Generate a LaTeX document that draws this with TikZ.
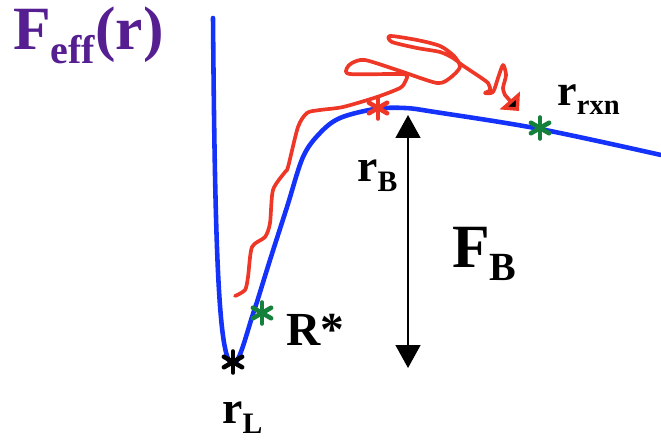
\documentclass[tikz,border=0pt]{standalone}
\usepackage{fontspec}
\setmainfont{Liberation Serif}
\usetikzlibrary{arrows.meta,positioning,calc}
\definecolor{curveblue}{RGB}{20,50,250}
\definecolor{pathred}{RGB}{238,55,38}
\definecolor{stargreen}{RGB}{20,128,60}
\definecolor{titlepurple}{RGB}{85,30,145}
\newcommand{\sublab}[2]{#1\raisebox{-0.22em}{\scalebox{0.65}{#2}}}

\begin{document}
\begin{tikzpicture}[x=0.02cm, y=-0.02cm,
  astx/.pic={\foreach \a in {30,90,...,330} \draw[line width=2.6pt, line cap=round] (0,0) -- (\a:6pt);},
  lab/.style={anchor=base west, inner sep=0pt},
  fbarrow/.style={line width=1.3pt, {Triangle[length=13pt,width=14pt]}-{Triangle[length=13pt,width=14pt]}}]
\useasboundingbox (0,0) rectangle (661,439);
% title
\node[lab, titlepurple, font=\bfseries\fontsize{35}{40}\selectfont] (title) at (13,50) {\sublab{F}{eff}(r)};
% free energy curve
\draw[curveblue, line width=2.6pt, line cap=round, line join=round]
  (213,18) .. controls (215,260) and (219,364) .. (233,364)
  .. controls (240,364) and (247,330) .. (257,302)
  -- plot[smooth, tension=0.55] coordinates {
  (257,302) (270,260) (287,207) (303,157) (320,133) (340,118) (375,109) (405,108)
  (435,112) (540,129) (661,155)};
% trajectory
\coordinate (trajend) at (519,111);
\draw[pathred, line width=2.1pt, line cap=round, line join=round,
  -{Triangle[length=8pt,width=15pt,fill=black]}] plot[smooth, tension=0.45] coordinates {
  (235,296) (245,290) (248,277) (252,247) (265,237) (270,223) (273,190) (285,172) (288,167)
  (298,127) (307,113) (320,110) (343,107) (377,97) (400,88) (405,82) (407,76) (400,74)
  (350,74) (347,68) (352,63) (365,60) (400,71) (437,83) (450,78) (460,67) (454,56) (440,46)
  (417,40) (390,36) (392,42) (417,48) (440,52) (453,58) (462,65) (477,75) (488,83) (490,90)
  (485,93) (493,92) (498,78) (503,65) (506,75) (503,88) (505,95)} -- (trajend);
% marked points
\coordinate (rl) at (233,362);
\coordinate (rstar) at (262,313);
\coordinate (rb) at (378,108);
\coordinate (rrxn) at (540,128);
\path (rl) pic[black] {astx};
\path (rstar) pic[stargreen] {astx};
\path (rb) pic[pathred] {astx};
\path (rrxn) pic[stargreen] {astx};
% barrier height
\coordinate (fbtop) at (408,115);
\coordinate (fbbot) at (408,368);
\draw[fbarrow] (fbbot) -- (fbtop);
% labels
\node[lab, font=\bfseries\fontsize{26}{30}\selectfont] (rblab) at (357,181) {\sublab{r}{B}};
\node[lab, font=\bfseries\fontsize{35}{40}\selectfont] (fblab) at (452,267) {\sublab{F}{B}};
\node[lab, font=\bfseries\fontsize{25}{30}\selectfont] (rxnlab) at (557,105) {\sublab{r}{rxn}};
\node[lab, font=\bfseries\fontsize{27}{30}\selectfont] (rslab) at (286,345) {R*};
\node[lab, font=\bfseries\fontsize{26}{30}\selectfont] (rllab) at (222,423) {\sublab{r}{L}};
\end{tikzpicture}
\end{document}
